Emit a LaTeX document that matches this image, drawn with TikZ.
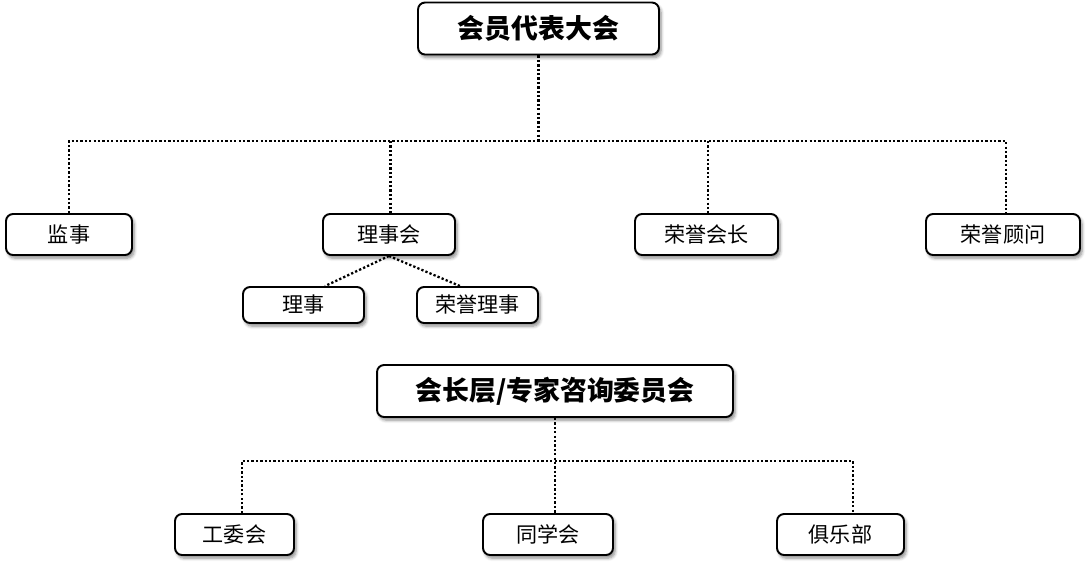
\documentclass[tikz,border=0pt]{standalone}
\usepackage{fontspec}
\newfontfamily\cjk{Noto Sans CJK SC}
\usetikzlibrary{shadows.blur}

\tikzset{
  box/.style={draw, line width=1.1pt, rounded corners=4pt, fill=white,
    minimum height=0.82cm, inner sep=0pt, font=\cjk\fontsize{12}{13}\selectfont,
    blur shadow={shadow xshift=1.2pt, shadow yshift=-1.8pt, shadow blur steps=6, shadow opacity=45}},
  headbox/.style={box, minimum height=1.04cm, font=\cjk\bfseries\fontsize{15.3}{16}\selectfont},
  link/.style={line width=1.3pt, dash pattern=on 1.3pt off 1.2pt}
}

\begin{document}
\begin{tikzpicture}[x=0.02cm, y=-0.02cm]
\useasboundingbox (0,0) rectangle (1087,566);

% upper tree
\node[headbox, minimum width=4.82cm] (dahui) at (538.5,28.5) {会员代表大会};
\node[box, minimum width=2.52cm] (jianshi) at (69,234.5) {监事};
\node[box, minimum width=2.64cm] (lishihui) at (389,234.5) {理事会};
\node[box, minimum width=2.86cm] (rongyuhuizhang) at (706.5,234.5) {荣誉会长};
\node[box, minimum width=3.08cm] (rongyuguwen) at (1003,234.5) {荣誉顾问};
\node[box, minimum width=2.42cm, minimum height=0.72cm] (lishi) at (303.5,305) {理事};
\node[box, minimum width=2.42cm, minimum height=0.72cm] (rongyulishi) at (477.5,305) {荣誉理事};

\coordinate (bus1) at (538.5,141);
\draw[link] (dahui.south) -- (bus1);
\draw[link] (jianshi.north) |- ([xshift=0.06cm]rongyuguwen.north |- bus1) -- ([xshift=0.06cm]rongyuguwen.north);
\foreach \n in {lishihui, rongyuhuizhang}
  \draw[link] ([xshift=0.03cm]\n.north |- bus1) -- ([xshift=0.03cm]\n.north);
\draw[link] (lishihui.south) -- ([xshift=0.43cm]lishi.north);
\draw[link] (lishihui.south) -- ([xshift=-0.35cm]rongyulishi.north);

% lower tree
\node[headbox, minimum width=7.12cm] (huizhangceng) at (555,391) {会长层/专家咨询委员会};
\node[box, minimum width=2.38cm] (gongwei) at (234.5,534.5) {工委会};
\node[box, minimum width=2.6cm] (tongxue) at (548,534.5) {同学会};
\node[box, minimum width=2.54cm] (julebu) at (840.5,534.5) {俱乐部};

\coordinate (bus2) at (555,461);
\draw[link] (huizhangceng.south) -- (huizhangceng.south |- tongxue.north);
\draw[link] ([xshift=0.15cm]gongwei.north) |- ([xshift=0.25cm]julebu.north |- bus2)
  -- ([xshift=0.25cm]julebu.north);
\end{tikzpicture}
\end{document}
